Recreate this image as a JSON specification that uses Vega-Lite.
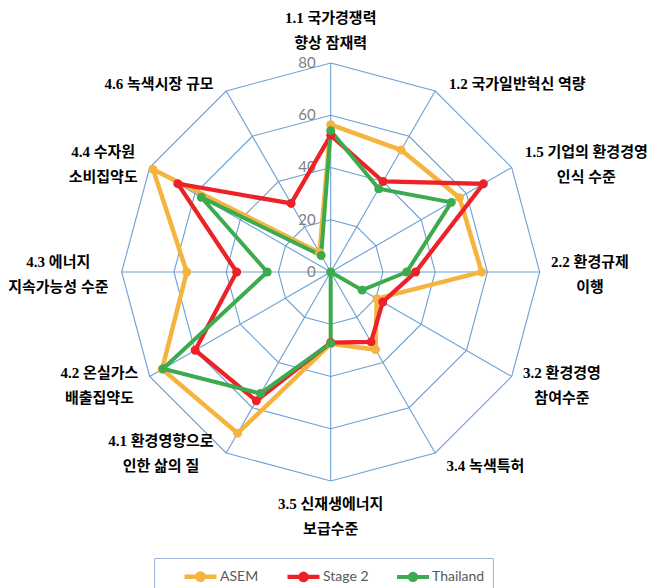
{
  "$schema": "https://vega.github.io/schema/vega-lite/v6.json",
  "width": 653,
  "height": 588,
  "padding": 0,
  "autosize": {"type": "none"},
  "background": "white",
  "config": {"view": {"stroke": null}},
  "datasets": {
    "axes": [
      {"idx": 0, "category": "1.1", "label": ["1.1 국가경쟁력", "향상 잠재력"], "rings": [20, 40, 60, 80]},
      {"idx": 1, "category": "1.2", "label": ["1.2 국가일반혁신 역량"], "rings": [20, 40, 60, 80]},
      {"idx": 2, "category": "1.5", "label": ["1.5 기업의 환경경영", "인식 수준"], "rings": [20, 40, 60, 80]},
      {"idx": 3, "category": "2.2", "label": ["2.2 환경규제", "이행"], "rings": [20, 40, 60, 80]},
      {"idx": 4, "category": "3.2", "label": ["3.2 환경경영", "참여수준"], "rings": [20, 40, 60, 80]},
      {"idx": 5, "category": "3.4", "label": ["3.4 녹색특허"], "rings": [20, 40, 60, 80]},
      {"idx": 6, "category": "3.5", "label": ["3.5 신재생에너지", "보급수준"], "rings": [20, 40, 60, 80]},
      {"idx": 7, "category": "4.1", "label": ["4.1 환경영향으로", "인한 삶의 질"], "rings": [20, 40, 60, 80]},
      {"idx": 8, "category": "4.2", "label": ["4.2 온실가스", "배출집약도"], "rings": [20, 40, 60, 80]},
      {"idx": 9, "category": "4.3", "label": ["4.3 에너지", "지속가능성 수준"], "rings": [20, 40, 60, 80]},
      {"idx": 10, "category": "4.4", "label": ["4.4 수자원", "소비집약도"], "rings": [20, 40, 60, 80]},
      {"idx": 11, "category": "4.6", "label": ["4.6 녹색시장 규모"], "rings": [20, 40, 60, 80]}
    ],
    "ticks": [{"v": 0}, {"v": 20}, {"v": 40}, {"v": 60}, {"v": 80}],
    "scores": [
      {"series": "ASEM", "category": "1.1", "value": 56.4},
      {"series": "ASEM", "category": "1.2", "value": 53.9},
      {"series": "ASEM", "category": "1.5", "value": 56.9},
      {"series": "ASEM", "category": "2.2", "value": 57.8},
      {"series": "ASEM", "category": "3.2", "value": 20.4},
      {"series": "ASEM", "category": "3.4", "value": 34.3},
      {"series": "ASEM", "category": "3.5", "value": 27.5},
      {"series": "ASEM", "category": "4.1", "value": 71.3},
      {"series": "ASEM", "category": "4.2", "value": 74.5},
      {"series": "ASEM", "category": "4.3", "value": 55.1},
      {"series": "ASEM", "category": "4.4", "value": 78.5},
      {"series": "ASEM", "category": "4.6", "value": 8.5},
      {"series": "Stage 2", "category": "1.1", "value": 52.3},
      {"series": "Stage 2", "category": "1.2", "value": 40.0},
      {"series": "Stage 2", "category": "1.5", "value": 67.5},
      {"series": "Stage 2", "category": "2.2", "value": 32.5},
      {"series": "Stage 2", "category": "3.2", "value": 23.0},
      {"series": "Stage 2", "category": "3.4", "value": 30.9},
      {"series": "Stage 2", "category": "3.5", "value": 27.0},
      {"series": "Stage 2", "category": "4.1", "value": 56.9},
      {"series": "Stage 2", "category": "4.2", "value": 59.9},
      {"series": "Stage 2", "category": "4.3", "value": 36.0},
      {"series": "Stage 2", "category": "4.4", "value": 67.6},
      {"series": "Stage 2", "category": "4.6", "value": 30.3},
      {"series": "Thailand", "category": "1.1", "value": 54.1},
      {"series": "Thailand", "category": "1.2", "value": 36.8},
      {"series": "Thailand", "category": "1.5", "value": 53.3},
      {"series": "Thailand", "category": "2.2", "value": 29.1},
      {"series": "Thailand", "category": "3.2", "value": 13.9},
      {"series": "Thailand", "category": "3.4", "value": 0},
      {"series": "Thailand", "category": "3.5", "value": 27.2},
      {"series": "Thailand", "category": "4.1", "value": 53.7},
      {"series": "Thailand", "category": "4.2", "value": 74.1},
      {"series": "Thailand", "category": "4.3", "value": 24.3},
      {"series": "Thailand", "category": "4.4", "value": 57.2},
      {"series": "Thailand", "category": "4.6", "value": 7.3}
    ]
  },
  "encoding": {
    "x": {"field": "x", "type": "quantitative", "axis": null, "scale": {"domain": [-126.58, 123.37], "zero": false, "nice": false}},
    "y": {"field": "y", "type": "quantitative", "axis": null, "scale": {"domain": [-120.96, 104.11], "zero": false, "nice": false}}
  },
  "layer": [
    {
      "data": {"name": "axes"},
      "transform": [
        {"flatten": ["rings"]},
        {"calculate": "datum.rings * sin(datum.idx * PI / 6)", "as": "x"},
        {"calculate": "datum.rings * cos(datum.idx * PI / 6)", "as": "y"}
      ],
      "mark": {"type": "line", "interpolate": "linear-closed", "stroke": "#6c9fd4", "strokeWidth": 1.1},
      "encoding": {
        "detail": {"field": "rings", "type": "nominal"},
        "order": {"field": "idx", "type": "quantitative"}
      }
    },
    {
      "data": {"name": "axes"},
      "transform": [
        {"calculate": "0", "as": "x"},
        {"calculate": "0", "as": "y"},
        {"calculate": "80 * sin(datum.idx * PI / 6)", "as": "x2"},
        {"calculate": "80 * cos(datum.idx * PI / 6)", "as": "y2"}
      ],
      "mark": {"type": "rule", "stroke": "#6c9fd4", "strokeWidth": 1.1},
      "encoding": {
        "x2": {"field": "x2"},
        "y2": {"field": "y2"}
      }
    },
    {
      "data": {"name": "ticks"},
      "transform": [
        {"calculate": "0", "as": "x"},
        {"calculate": "datum.v", "as": "y"}
      ],
      "mark": {"type": "text", "align": "right", "baseline": "middle", "dx": -15, "font": "Lato", "fontSize": 15, "color": "#808080"},
      "encoding": {"text": {"field": "v", "type": "quantitative"}}
    },
    {
      "data": {"name": "axes"},
      "transform": [
        {"calculate": "sin(datum.idx * PI / 6)", "as": "s"},
        {"calculate": "cos(datum.idx * PI / 6)", "as": "c"},
        {"calculate": "15 * length(replace(datum.label[0], regexp('[^가-힣]', 'g'), '')) + 7.5 * length(replace(datum.label[0], regexp('[^0-9]', 'g'), '')) + 3.75 * length(replace(datum.label[0], regexp('[가-힣0-9]', 'g'), ''))", "as": "w0"},
        {"calculate": "length(datum.label) > 1 ? 15 * length(replace(datum.label[1], regexp('[^가-힣]', 'g'), '')) + 7.5 * length(replace(datum.label[1], regexp('[^0-9]', 'g'), '')) + 3.75 * length(replace(datum.label[1], regexp('[가-힣0-9]', 'g'), '')) : 0", "as": "w1"},
        {"calculate": "max(datum.w0, datum.w1) / 2", "as": "hw"},
        {"calculate": "((length(datum.label) - 1) * 25 + 16) / 2", "as": "hh"},
        {"calculate": "abs(datum.s) > 0.1 ? (datum.s > 0 ? 1 : -1) * (9 + datum.hw) : 0", "as": "dxp"},
        {"calculate": "(abs(datum.s) > 0.1 ? (3 - 12 * datum.c - (abs(datum.s) < 0.6 ? (length(datum.label) - 1) * 12.5 : 0)) : (datum.c > 0 ? -(12 + datum.hh) : (15 + datum.hh))) - (length(datum.label) - 1) * 12.5", "as": "dyp"},
        {"calculate": "80 * datum.s + datum.dxp / 2.6125", "as": "x"},
        {"calculate": "80 * datum.c - datum.dyp / 2.6125", "as": "y"}
      ],
      "mark": {"type": "text", "align": "center", "baseline": "middle", "font": "'Liberation Serif', 'Noto Sans CJK KR', sans-serif", "fontWeight": "bold", "fontSize": 15, "lineHeight": 25, "color": "#000000"},
      "encoding": {"text": {"field": "label"}}
    },
    {
      "data": {"name": "scores"},
      "transform": [
        {"lookup": "category", "from": {"data": {"name": "axes"}, "key": "category", "fields": ["idx"]}},
        {"calculate": "datum.value * sin(datum.idx * PI / 6)", "as": "x"},
        {"calculate": "datum.value * cos(datum.idx * PI / 6)", "as": "y"}
      ],
      "mark": {"type": "line", "interpolate": "linear-closed"},
      "encoding": {
        "stroke": {"field": "series", "type": "nominal", "scale": {"domain": ["ASEM", "Stage 2", "Thailand"], "range": ["#F5B43F", "#EC2228", "#3CAA4E"]},
          "legend": {"orient": "none", "legendX": 154, "legendY": 558, "direction": "horizontal", "title": " ", "titleOrient": "left", "titlePadding": 28, "titleFontSize": 4, "padding": 8, "strokeColor": "#9fb6d6", "labelFont": "Lato", "labelFontSize": 14, "labelColor": "#595959", "labelOffset": 9, "columnPadding": 20, "symbolType": "M-2,0H2M0.4,0A0.4,0.4,0,1,1,-0.4,0A0.4,0.4,0,1,1,0.4,0Z", "symbolSize": 256, "symbolStrokeWidth": 3}},
        "strokeWidth": {"field": "series", "type": "ordinal", "scale": {"domain": ["ASEM", "Stage 2", "Thailand"], "range": [4.5, 4, 2.5]}, "legend": null},
        "order": {"field": "idx", "type": "quantitative"}
      }
    },
    {
      "data": {"name": "scores"},
      "transform": [
        {"lookup": "category", "from": {"data": {"name": "axes"}, "key": "category", "fields": ["idx"]}},
        {"calculate": "datum.value * sin(datum.idx * PI / 6)", "as": "x"},
        {"calculate": "datum.value * cos(datum.idx * PI / 6)", "as": "y"}
      ],
      "mark": {"type": "circle", "size": 80, "opacity": 1},
      "encoding": {
        "color": {"field": "series", "type": "nominal", "scale": {"domain": ["ASEM", "Stage 2", "Thailand"], "range": ["#F5B43F", "#EC2228", "#3CAA4E"]}, "legend": null}
      }
    }
  ]
}
